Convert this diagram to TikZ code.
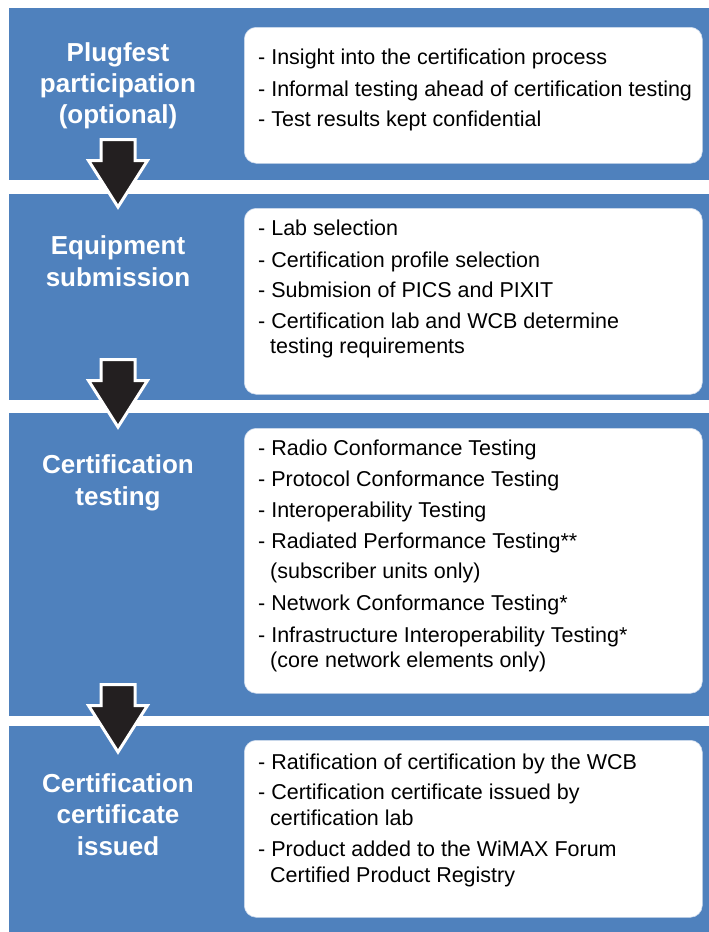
\documentclass[tikz,border=0pt]{standalone}
\usepackage{fontspec}
\setmainfont{Liberation Sans}
\definecolor{bandblue}{RGB}{79,129,189}
\definecolor{arrowdark}{RGB}{35,31,32}
\definecolor{boxedge}{RGB}{205,218,236}
\tikzset{
  band/.style={rectangle, fill=bandblue, draw=none, anchor=north west, inner sep=0pt},
  infobox/.style={rectangle, rounded corners=12pt, fill=white, draw=boxedge, line width=0.6pt, anchor=north west, inner sep=0pt},
  steplabel/.style={anchor=base, text=white, inner sep=0pt, font=\fontsize{26}{30}\selectfont\bfseries},
  item/.style={anchor=base west, text=black, inner sep=0pt, font=\fontsize{21.5}{25}\selectfont},
  darrow/.pic={\draw[fill=arrowdark, draw=white, line width=3pt, line join=miter]
    (-17,0) -- (17,0) -- (17,21) -- (29.5,21) -- (0,67.5) -- (-29.5,21) -- (-17,21) -- cycle;}
}
\begin{document}
\begin{tikzpicture}[x=1pt, y=-1pt]
\useasboundingbox[fill=white] (0,0) rectangle (709,932);
% bands
\node[band, minimum width=700pt, minimum height=172pt] (b1) at (9,8) {};
\node[band, minimum width=700pt, minimum height=206pt] (b2) at (9,194) {};
\node[band, minimum width=700pt, minimum height=303pt] (b3) at (9,413) {};
\node[band, minimum width=700pt, minimum height=206pt] (b4) at (9,726) {};
% white boxes
\node[infobox, minimum width=458pt, minimum height=136pt] (w1) at (244,27) {};
\node[infobox, minimum width=458pt, minimum height=186pt] (w2) at (244,208) {};
\node[infobox, minimum width=458pt, minimum height=265pt] (w3) at (244,428) {};
\node[infobox, minimum width=458pt, minimum height=177pt] (w4) at (244,740) {};
% arrows
\pic at (118,139.5) {darrow};
\pic at (118,359.5) {darrow};
\pic at (118,684.5) {darrow};
% left labels
\node[steplabel] (l1a) at (118,61) {Plugfest};
\node[steplabel] (l1b) at (118,92) {participation};
\node[steplabel] (l1c) at (118,123) {(optional)};
\node[steplabel] (l2a) at (118,254) {Equipment};
\node[steplabel] (l2b) at (118,286) {submission};
\node[steplabel] (l3a) at (118,473) {Certification};
\node[steplabel] (l3b) at (118,505) {testing};
\node[steplabel] (l4a) at (118,792) {Certification};
\node[steplabel] (l4b) at (118,823) {certificate};
\node[steplabel] (l4c) at (118,855) {issued};
% box 1
\node[item] (t1a) at (258,64) {- Insight into the certification process};
\node[item] (t1b) at (258,96) {- Informal testing ahead of certification testing};
\node[item] (t1c) at (258,126) {- Test results kept confidential};
% box 2
\node[item] (t2a) at (258,235) {- Lab selection};
\node[item] (t2b) at (258,267) {- Certification profile selection};
\node[item] (t2c) at (258,297) {- Submision of PICS and PIXIT};
\node[item] (t2d) at (258,328) {- Certification lab and WCB determine};
\node[item] (t2e) at (270,353) {testing requirements};
% box 3
\node[item] (t3a) at (258,455) {- Radio Conformance Testing};
\node[item] (t3b) at (258,486) {- Protocol Conformance Testing};
\node[item] (t3c) at (258,517) {- Interoperability Testing};
\node[item] (t3d) at (258,548) {- Radiated Performance Testing**};
\node[item] (t3e) at (270,578) {(subscriber units only)};
\node[item] (t3f) at (258,610) {- Network Conformance Testing*};
\node[item] (t3g) at (258,642) {- Infrastructure Interoperability Testing*};
\node[item] (t3h) at (270,667) {(core network elements only)};
% box 4
\node[item] (t4a) at (258,769) {- Ratification of certification by the WCB};
\node[item] (t4b) at (258,799) {- Certification certificate issued by};
\node[item] (t4c) at (270,825) {certification lab};
\node[item] (t4d) at (258,856) {- Product added to the WiMAX Forum};
\node[item] (t4e) at (270,882) {Certified Product Registry};
\end{tikzpicture}
\end{document}
